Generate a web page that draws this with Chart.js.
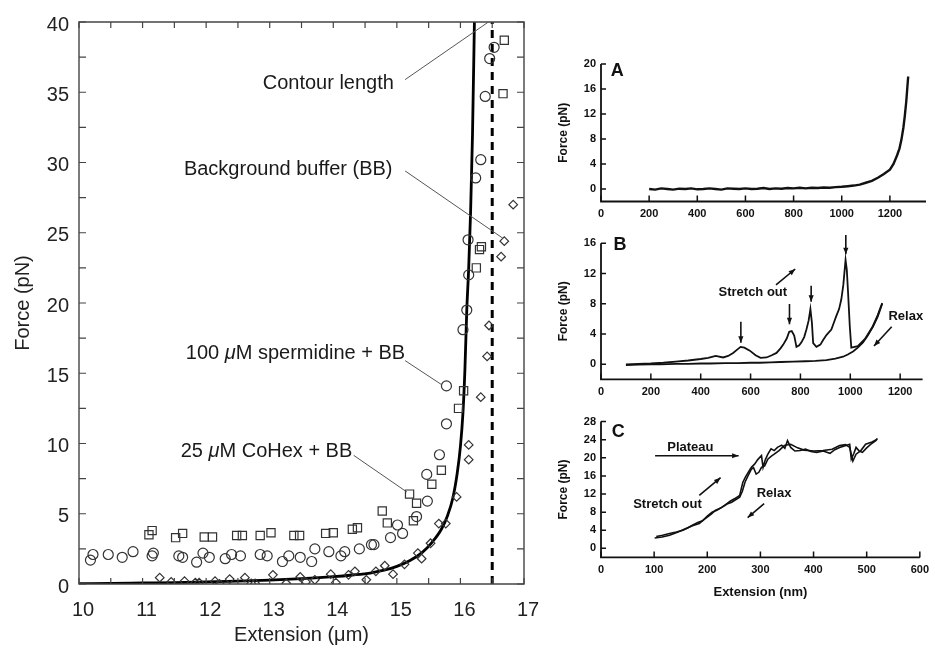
<!DOCTYPE html>
<html>
<head>
<meta charset="utf-8">
<script src="https://cdn.jsdelivr.net/npm/chart.js@4"></script>
<style>
  html, body { margin: 0; padding: 0; background: #fff; }
  #wrap { position: relative; width: 935px; height: 648px; overflow: hidden; }
  canvas { position: absolute; }
</style>
</head>
<body>
<div id="wrap">
  <canvas id="main" width="560" height="648" style="left:0;top:0"></canvas>
  <canvas id="pa" width="380" height="175" style="left:555px;top:50px"></canvas>
  <canvas id="pb" width="380" height="180" style="left:555px;top:228px"></canvas>
  <canvas id="pc" width="380" height="238" style="left:555px;top:410px"></canvas>
</div>
<script>
const FONT = "'Liberation Sans', Arial, Helvetica, sans-serif";

// ---- main plot: force (pN) vs extension (um) ----
const mainXTicks = [10, 11, 12, 13, 14, 15, 16, 17];
const mainYTicks = [0, 5, 10, 15, 20, 25, 30, 35, 40];
const contourLength = 16.5;

// fitted curve (solid line)
const fitExt =   [10, 10.5, 11, 11.5, 12, 12.5, 13, 13.5, 14, 14.3, 14.6, 14.8, 15.0, 15.2, 15.4, 15.55, 15.7, 15.8, 15.88, 15.95, 16.0, 16.04, 16.07, 16.1, 16.13, 16.16, 16.19, 16.22];
const fitForce = [0.02, 0.04, 0.07, 0.1, 0.15, 0.2, 0.28, 0.38, 0.52, 0.64, 0.8, 0.98, 1.25, 1.65, 2.25, 2.95, 3.9, 4.9, 6.1, 7.9, 9.8, 12.2, 15.2, 19.5, 22.5, 26.5, 32, 40];

// 25 uM CoHex + BB (squares)
const coHexPts = [[11.1,3.5],[11.15,3.8],[11.52,3.3],[11.63,3.6],[11.97,3.35],[12.1,3.35],[12.48,3.45],[12.57,3.45],[12.85,3.45],[13.02,3.65],[13.38,3.45],[13.47,3.45],[13.88,3.6],[14.0,3.65],[14.3,3.9],[14.38,4.0],[14.77,5.2],[14.85,4.35],[15.2,6.4],[15.31,5.75],[15.26,4.5],[15.55,7.1],[15.7,8.1],[15.97,12.5],[16.05,13.75],[16.25,22.5],[16.3,23.8],[16.33,24.0],[16.67,34.9],[16.69,38.7]];
// 100 uM spermidine + BB (circles)
const spermPts = [[10.18,1.7],[10.22,2.1],[10.46,2.1],[10.68,1.9],[10.85,2.3],[11.15,2.0],[11.17,2.2],[11.57,2.0],[11.63,1.9],[11.85,1.55],[11.95,2.2],[12.05,1.9],[12.3,1.8],[12.4,2.1],[12.54,2.0],[12.85,2.1],[12.96,2.0],[13.2,1.6],[13.3,2.0],[13.48,1.9],[13.66,1.6],[13.71,2.5],[13.93,2.3],[14.12,2.0],[14.18,2.3],[14.41,2.5],[14.6,2.8],[14.64,2.8],[14.9,3.3],[15.01,4.2],[15.09,3.6],[15.31,4.8],[15.47,7.8],[15.48,5.9],[15.67,9.2],[15.78,11.4],[15.78,14.1],[16.04,18.1],[16.1,19.5],[16.13,22.0],[16.12,24.5],[16.24,28.9],[16.32,30.2],[16.39,34.7],[16.46,37.4],[16.53,38.2]];
// background buffer (diamonds)
const bufferPts = [[11.27,0.45],[11.45,0.15],[11.66,0.2],[11.83,0.1],[11.89,0.1],[12.14,0.2],[12.21,0],[12.37,0.35],[12.61,0.45],[12.71,0.05],[12.77,0.05],[13.05,0.65],[13.26,0.05],[13.48,0.5],[13.57,0.15],[13.71,0.3],[13.96,0.7],[14.04,0.1],[14.24,0.65],[14.34,0.9],[14.52,0.3],[14.67,0.9],[14.81,1.3],[14.94,0.7],[15.12,1.4],[15.33,2.2],[15.39,1.8],[15.53,2.9],[15.66,4.3],[15.77,4.3],[15.94,6.2],[16.13,8.85],[16.13,9.9],[16.32,13.3],[16.42,16.2],[16.45,18.4],[16.64,23.3],[16.69,24.4],[16.83,27.0]];

// ---- panel A ----
const aXTicks = [0, 200, 400, 600, 800, 1000, 1200];
const aYTicks = [0, 4, 8, 12, 16, 20];
const aTrace = [[200,0],[225,-0.1],[250,0.1],[275,0],[300,-0.1],[325,0.05],[350,0],[375,0.1],[400,-0.05],[425,0],[450,0.1],[475,0],[500,-0.1],[525,0.1],[550,0.05],[575,0],[600,0.1],[625,0],[650,0.05],[675,0.15],[700,0],[725,0.1],[750,0.05],[775,0.15],[800,0.1],[825,0.2],[850,0.1],[875,0.2],[900,0.15],[925,0.25],[950,0.2],[975,0.3],[1000,0.35],[1025,0.45],[1050,0.55],[1075,0.7],[1100,1.0],[1125,1.3],[1150,1.8],[1175,2.4],[1200,3.1],[1215,4.0],[1230,5.4],[1240,6.5],[1248,7.9],[1256,9.8],[1262,11.7],[1268,14],[1272,16],[1276,18]];

// ---- panel B ----
const bXTicks = [0, 200, 400, 600, 800, 1000, 1200];
const bYTicks = [0, 4, 8, 12, 16];
const bStretch = [[100,0],[150,0.05],[200,0.1],[250,0.2],[300,0.35],[350,0.5],[400,0.7],[430,0.85],[460,1.1],[490,0.9],[510,1.1],[530,1.5],[545,1.9],[560,2.3],[575,2.2],[597,1.8],[620,1.2],[640,0.85],[664,0.9],[685,1.2],[704,1.5],[720,2.1],[731,2.6],[745,3.4],[755,4.3],[765,4.4],[775,3.8],[784,2.3],[795,2.5],[804,2.9],[815,3.6],[824,4.6],[833,5.8],[840,7.3],[846,5.5],[851,2.8],[864,2.3],[880,2.6],[891,3.2],[905,3.9],[924,4.6],[935,5.6],[944,6.4],[955,7.3],[964,8.6],[972,10.5],[981,13.8],[986,12.5],[991,9.5],[998,5.0],[1004,2.2],[1030,2.4],[1060,3.4],[1090,5.0],[1110,6.5],[1128,8.1]];
const bRelax = [[1128,8.0],[1110,6.3],[1091,5.0],[1070,3.8],[1051,2.9],[1030,2.2],[1011,1.7],[990,1.3],[971,1.0],[940,0.75],[904,0.55],[860,0.45],[820,0.4],[771,0.35],[720,0.3],[680,0.25],[637,0.2],[600,0.2],[550,0.15],[500,0.15],[437,0.1],[400,0.1],[350,0.05],[300,0.05],[237,0],[200,0],[150,-0.05],[100,-0.1]];

// ---- panel C ----
const cXTicks = [0, 100, 200, 300, 400, 500, 600];
const cYTicks = [0, 4, 8, 12, 16, 20, 24, 28];
const cStretch = [[101,2.3],[115,2.5],[129,2.9],[145,3.6],[160,4.4],[172,5.0],[185,5.5],[193,6.3],[200,6.9],[208,7.6],[215,8.4],[225,8.9],[234,9.6],[243,10.4],[252,11],[261,11.7],[264,13.2],[267,14.6],[272,15.8],[277,16.8],[283,17.9],[289,18.6],[295,19.6],[302,20.5],[305,17.9],[309,19.5],[314,20.8],[320,22],[326,21.6],[332,22.3],[340,22.8],[346,22.1],[351,23.8],[357,22.3],[365,21.5],[375,21.6],[385,21.9],[395,21.4],[406,21.2],[418,21.5],[431,21],[440,21.8],[449,22.3],[458,22.6],[468,23],[471,19.7],[476,21],[480,22.3],[486,21.5],[492,21.2],[500,22.2],[508,23],[517,23.8],[520,24.3]];
const cRelax = [[520,24.1],[510,23.5],[498,23],[489,21.6],[480,20.8],[474,19.3],[468,22.3],[460,22.9],[449,22.7],[435,21.9],[418,21.6],[400,21.5],[382,21.7],[370,22.2],[357,23],[345,22.7],[335,21.6],[326,20.8],[320,20.3],[314,19.7],[308,18.2],[302,17.9],[297,16.8],[292,16.4],[287,17.8],[283,17.5],[277,16.1],[271,14.6],[266,12.6],[261,11.3],[254,10.8],[246,10.2],[237,9.8],[228,9.1],[218,8.4],[209,8.0],[200,7.1],[191,6.1],[182,5.7],[172,5.1],[163,4.5],[154,4.0],[142,3.6],[129,3.3],[116,2.9],[104,2.6]];

const xy = pts => pts.map(p => ({ x: p[0], y: p[1] }));
const withMinor = t => t.concat(t.slice(1).map((v, i) => (v + t[i]) / 2));

// frame (box or L) with inward tick marks
function frameAndTicks(spec) {
  return {
    id: 'frameAndTicks',
    afterDatasetsDraw(chart) {
      const { ctx, chartArea: a, scales } = chart;
      const sx = scales.x, sy = scales.y;
      ctx.save();
      ctx.strokeStyle = spec.color;
      ctx.lineWidth = spec.frameWidth;
      ctx.beginPath();
      if (spec.box) {
        ctx.rect(a.left, a.top, a.right - a.left, a.bottom - a.top);
      } else {
        ctx.moveTo(a.left, a.top);
        ctx.lineTo(a.left, a.bottom);
        ctx.lineTo(a.right, a.bottom);
      }
      ctx.stroke();
      ctx.lineWidth = spec.tickWidth;
      ctx.beginPath();
      spec.xTicks.forEach(v => {
        const p = sx.getPixelForValue(v);
        ctx.moveTo(p, a.bottom); ctx.lineTo(p, a.bottom - spec.xLen);
        if (spec.box) { ctx.moveTo(p, a.top); ctx.lineTo(p, a.top + spec.xLen); }
      });
      spec.yTicks.forEach(v => {
        const p = sy.getPixelForValue(v);
        ctx.moveTo(a.left, p); ctx.lineTo(a.left + spec.yLen, p);
        if (spec.box) { ctx.moveTo(a.right, p); ctx.lineTo(a.right - spec.yLen, p); }
      });
      ctx.stroke();
      ctx.restore();
    }
  };
}

function drawRuns(ctx, runs, x, y, size, weight, align) {
  const f = it => (it ? 'italic ' : '') + weight + ' ' + size + 'px ' + FONT;
  let total = 0;
  runs.forEach(r => { ctx.font = f(r[1]); total += ctx.measureText(r[0]).width; });
  let cx = align === 'center' ? x - total / 2 : x;
  ctx.textAlign = 'left';
  ctx.textBaseline = 'middle';
  runs.forEach(r => {
    ctx.font = f(r[1]);
    ctx.fillText(r[0], cx, y);
    cx += ctx.measureText(r[0]).width;
  });
}

// labels, leader lines and arrows placed in data coordinates
function decorations(items) {
  return {
    id: 'decorations',
    afterDatasetsDraw(chart) {
      const { ctx, scales: { x, y } } = chart;
      ctx.save();
      items.forEach(it => {
        ctx.strokeStyle = it.color || '#111';
        ctx.fillStyle = it.color || '#111';
        if (it.kind === 'text') {
          drawRuns(ctx, it.runs, x.getPixelForValue(it.at[0]), y.getPixelForValue(it.at[1]), it.size, it.weight || 'normal', it.align || 'left');
          return;
        }
        const x1 = x.getPixelForValue(it.from[0]), y1 = y.getPixelForValue(it.from[1]);
        const x2 = x.getPixelForValue(it.to[0]), y2 = y.getPixelForValue(it.to[1]);
        ctx.lineWidth = it.width || 1;
        ctx.beginPath(); ctx.moveTo(x1, y1); ctx.lineTo(x2, y2); ctx.stroke();
        if (it.kind === 'arrow') {
          const ang = Math.atan2(y2 - y1, x2 - x1), h = it.head || 7;
          ctx.beginPath();
          ctx.moveTo(x2, y2);
          ctx.lineTo(x2 - h * Math.cos(ang - 0.38), y2 - h * Math.sin(ang - 0.38));
          ctx.lineTo(x2 - h * Math.cos(ang + 0.38), y2 - h * Math.sin(ang + 0.38));
          ctx.closePath();
          ctx.fill();
        }
      });
      ctx.restore();
    }
  };
}

const markerStyle = { borderColor: '#333', backgroundColor: 'rgba(0,0,0,0)', borderWidth: 1.2 };

new Chart(document.getElementById('main'), {
  type: 'scatter',
  data: {
    datasets: [
      Object.assign({ data: xy(coHexPts), pointStyle: 'rect', pointRadius: 5.8 }, markerStyle),
      Object.assign({ data: xy(spermPts), pointStyle: 'circle', pointRadius: 5 }, markerStyle),
      Object.assign({ data: xy(bufferPts), pointStyle: 'rectRot', pointRadius: 4.3 }, markerStyle),
      {
        data: fitExt.map((v, i) => ({ x: v, y: fitForce[i] })),
        showLine: true, pointRadius: 0, borderColor: '#000', borderWidth: 2.8,
        cubicInterpolationMode: 'monotone'
      },
      {
        data: [{ x: contourLength, y: 0 }, { x: contourLength, y: 40 }],
        showLine: true, pointRadius: 0, borderColor: '#000', borderWidth: 3, borderDash: [8, 6]
      }
    ]
  },
  options: {
    responsive: false,
    animation: false,
    events: [],
    layout: { padding: { left: 0, right: 36, top: 16, bottom: 0 } },
    plugins: { legend: { display: false }, tooltip: { enabled: false } },
    scales: {
      x: {
        type: 'linear', min: 10, max: 17,
        afterBuildTicks: s => { s.ticks = mainXTicks.map(v => ({ value: v })); },
        afterFit: s => { s.height = 64; },
        grid: { display: false, drawTicks: false },
        border: { display: false },
        ticks: { font: { family: FONT, size: 20 }, color: '#222', padding: 14, labelOffset: 4, maxRotation: 0, autoSkip: false, callback: v => String(v) },
        title: { display: true, text: 'Extension (\u03bcm)', color: '#222', font: { family: FONT, size: 20 }, padding: { top: 0, bottom: 1 } }
      },
      y: {
        type: 'linear', min: 0, max: 40,
        afterBuildTicks: s => { s.ticks = mainYTicks.map(v => ({ value: v })); },
        afterFit: s => { s.width = 79; },
        grid: { display: false, drawTicks: false },
        border: { display: false },
        ticks: { font: { family: FONT, size: 20 }, color: '#222', padding: 10, labelOffset: 3, autoSkip: false, callback: v => String(v) },
        title: { display: true, text: 'Force (pN)', color: '#222', font: { family: FONT, size: 20 }, padding: { top: 11, bottom: 0 } }
      }
    }
  },
  plugins: [
    frameAndTicks({ box: true, color: '#444', frameWidth: 1.4, tickWidth: 1.2, xLen: 6, yLen: 7,
      xTicks: withMinor(mainXTicks), yTicks: withMinor(mainYTicks) }),
    decorations([
      { kind: 'text', at: [12.89, 35.6], runs: [['Contour length', false]], size: 20, color: '#1a1a1a' },
      { kind: 'text', at: [11.65, 29.5], runs: [['Background buffer (BB)', false]], size: 20, color: '#1a1a1a' },
      { kind: 'text', at: [11.68, 16.4], runs: [['100 ', false], ['\u03bc', true], ['M spermidine + BB', false]], size: 20, color: '#1a1a1a' },
      { kind: 'text', at: [11.6, 9.4], runs: [['25 ', false], ['\u03bc', true], ['M CoHex + BB', false]], size: 20, color: '#1a1a1a' },
      { kind: 'line', from: [15.13, 35.9], to: [16.44, 40], color: '#555', width: 1 },
      { kind: 'line', from: [15.13, 29.4], to: [16.67, 24.6], color: '#555', width: 1 },
      { kind: 'line', from: [15.13, 15.9], to: [15.7, 14.2], color: '#555', width: 1 },
      { kind: 'line', from: [14.32, 9.16], to: [15.16, 6.54], color: '#555', width: 1 }
    ])
  ]
});

function makePanel(canvasId, p) {
  const tickFont = { family: FONT, size: 11, weight: 'bold' };
  return new Chart(document.getElementById(canvasId), {
    type: 'scatter',
    data: {
      datasets: p.traces.map(t => ({
        data: xy(t), showLine: true, pointRadius: 0, borderColor: '#111',
        borderWidth: p.lineWidth, tension: 0
      }))
    },
    options: {
      responsive: false,
      animation: false,
      events: [],
      layout: { padding: { left: 0, right: p.padRight, top: p.padTop, bottom: 0 } },
      plugins: { legend: { display: false }, tooltip: { enabled: false } },
      scales: {
        x: {
          type: 'linear', min: p.xRange[0], max: p.xRange[1],
          afterBuildTicks: s => { s.ticks = p.xTicks.map(v => ({ value: v })); },
          afterFit: s => { s.height = p.xHeight; },
          grid: { display: false, drawTicks: false },
          border: { display: false },
          ticks: { font: tickFont, color: '#111', padding: 6, maxRotation: 0, autoSkip: false, callback: v => String(v) },
          title: p.xTitle
            ? { display: true, text: p.xTitle, color: '#111', font: { family: FONT, size: 13, weight: 'bold' }, padding: { top: 0, bottom: p.xTitlePad } }
            : { display: false }
        },
        y: {
          type: 'linear', min: p.yRange[0], max: p.yRange[1],
          afterBuildTicks: s => { s.ticks = p.yTicks.map(v => ({ value: v })); },
          afterFit: s => { s.width = 46; },
          grid: { display: false, drawTicks: false },
          border: { display: false },
          ticks: { font: tickFont, color: '#111', padding: 5, autoSkip: false, callback: v => String(v) },
          title: { display: true, text: 'Force (pN)', color: '#111', font: { family: FONT, size: 12, weight: 'bold' }, padding: { top: 1, bottom: 0 } }
        }
      }
    },
    plugins: [
      frameAndTicks({ box: false, color: '#111', frameWidth: 1.8, tickWidth: 1.5, xLen: 6, yLen: 5,
        xTicks: p.xTicks, yTicks: p.yTicks }),
      decorations(p.notes)
    ]
  });
}

makePanel('pa', {
  traces: [aTrace], lineWidth: 2.4,
  xRange: [0, 1350], yRange: [-2, 20], xTicks: aXTicks, yTicks: aYTicks,
  padTop: 14, padRight: 9, xHeight: 23.5,
  notes: [
    { kind: 'text', at: [40, 18.8], runs: [['A', false]], size: 18, weight: 'bold' }
  ]
});

makePanel('pb', {
  traces: [bStretch, bRelax], lineWidth: 1.8,
  xRange: [0, 1290], yRange: [-2, 16], xTicks: bXTicks, yTicks: bYTicks,
  padTop: 15.3, padRight: 12.4, xHeight: 28.6,
  notes: [
    { kind: 'text', at: [50, 15.8], runs: [['B', false]], size: 18, weight: 'bold' },
    { kind: 'text', at: [609, 9.47], runs: [['Stretch out', false]], size: 13, weight: 'bold', align: 'center' },
    { kind: 'arrow', from: [702, 10.5], to: [779, 12.6], width: 1.6, head: 7 },
    { kind: 'arrow', from: [561, 5.63], to: [561, 2.86], width: 1.6, head: 7 },
    { kind: 'arrow', from: [756, 7.97], to: [756, 5.29], width: 1.6, head: 7 },
    { kind: 'arrow', from: [843, 10.4], to: [843, 8.28], width: 1.6, head: 7 },
    { kind: 'arrow', from: [982, 17.1], to: [982, 14.55], width: 1.6, head: 7 },
    { kind: 'text', at: [1153, 6.3], runs: [['Relax', false]], size: 13, weight: 'bold' },
    { kind: 'arrow', from: [1166, 4.97], to: [1095, 2.42], width: 1.6, head: 7 }
  ]
});

makePanel('pc', {
  traces: [cStretch, cRelax], lineWidth: 1.6,
  xRange: [0, 600], yRange: [-2, 28], xTicks: cXTicks, yTicks: cYTicks,
  padTop: 10.7, padRight: 10, xHeight: 90.6,
  xTitle: 'Extension (nm)', xTitlePad: 48,
  notes: [
    { kind: 'text', at: [20, 25.6], runs: [['C', false]], size: 18, weight: 'bold' },
    { kind: 'text', at: [124.6, 22.3], runs: [['Plateau', false]], size: 13, weight: 'bold' },
    { kind: 'arrow', from: [101.8, 20.46], to: [259, 20.46], width: 1.6, head: 7 },
    { kind: 'text', at: [60.5, 9.7], runs: [['Stretch out', false]], size: 13, weight: 'bold' },
    { kind: 'arrow', from: [185, 11.7], to: [225, 15.6], width: 1.6, head: 7 },
    { kind: 'text', at: [293, 12.2], runs: [['Relax', false]], size: 13, weight: 'bold' },
    { kind: 'arrow', from: [307, 9.87], to: [276, 6.8], width: 1.6, head: 7 }
  ]
});
</script>
</body>
</html>
